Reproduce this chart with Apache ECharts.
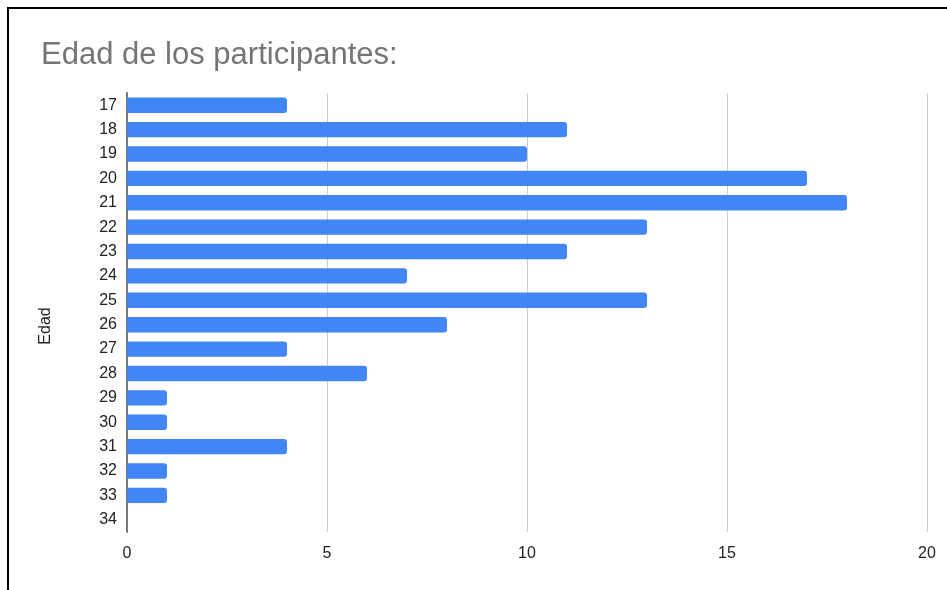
<!DOCTYPE html>
<html>
<head>
<meta charset="utf-8">
<script src="https://cdn.jsdelivr.net/npm/echarts@6/dist/echarts.min.js"></script>
<style>
html,body{margin:0;padding:0;background:#fff;}
#chart{width:947px;height:590px;}
</style>
</head>
<body>
<div id="chart"></div>
<script>
const categories = ['17','18','19','20','21','22','23','24','25','26','27','28','29','30','31','32','33','34'];
const values = [4, 11, 10, 17, 18, 13, 11, 7, 13, 8, 4, 6, 1, 1, 4, 1, 1, 0];
const xTicks = [0, 5, 10, 15, 20];
const axisTitle = 'Edad';

const chart = echarts.init(document.getElementById('chart'));
chart.setOption({
  animation: false,
  backgroundColor: '#fff',
  title: {
    text: 'Edad de los participantes:',
    left: 36, top: 35,
    textStyle: { fontFamily: 'Liberation Sans', fontSize: 31, fontWeight: 'normal', color: '#757575' }
  },
  graphic: [
    { type: 'rect', shape: { x: 7, y: 7, width: 2, height: 583 }, style: { fill: '#000' } },
    { type: 'rect', shape: { x: 7, y: 7, width: 940, height: 2 }, style: { fill: '#000' } },
    { type: 'text', x: 46, y: 326, rotation: Math.PI / 2,
      style: { text: axisTitle, align: 'center', verticalAlign: 'middle',
               fontFamily: 'Liberation Sans', fontSize: 16, fill: '#222' } }
  ],
  grid: { left: 127, right: 20, top: 93, bottom: 58, containLabel: false },
  xAxis: {
    type: 'value', min: xTicks[0], max: xTicks[xTicks.length - 1], interval: 5,
    axisLine: { show: false }, axisTick: { show: false },
    splitLine: { show: true, lineStyle: { color: '#cccccc', width: 1 } },
    axisLabel: { margin: 14, fontFamily: 'Liberation Sans', fontSize: 16, color: '#222' }
  },
  yAxis: {
    type: 'category', data: categories, inverse: true,
    axisLine: { show: true, lineStyle: { color: '#777', width: 2 } },
    axisTick: { show: false },
    axisLabel: { margin: 10, fontFamily: 'Liberation Sans', fontSize: 16, color: '#222' }
  },
  series: [{
    type: 'bar', data: values, barWidth: '63%',
    itemStyle: { color: '#4285f4', borderRadius: [0, 3, 3, 0] }
  }]
});
</script>
</body>
</html>
